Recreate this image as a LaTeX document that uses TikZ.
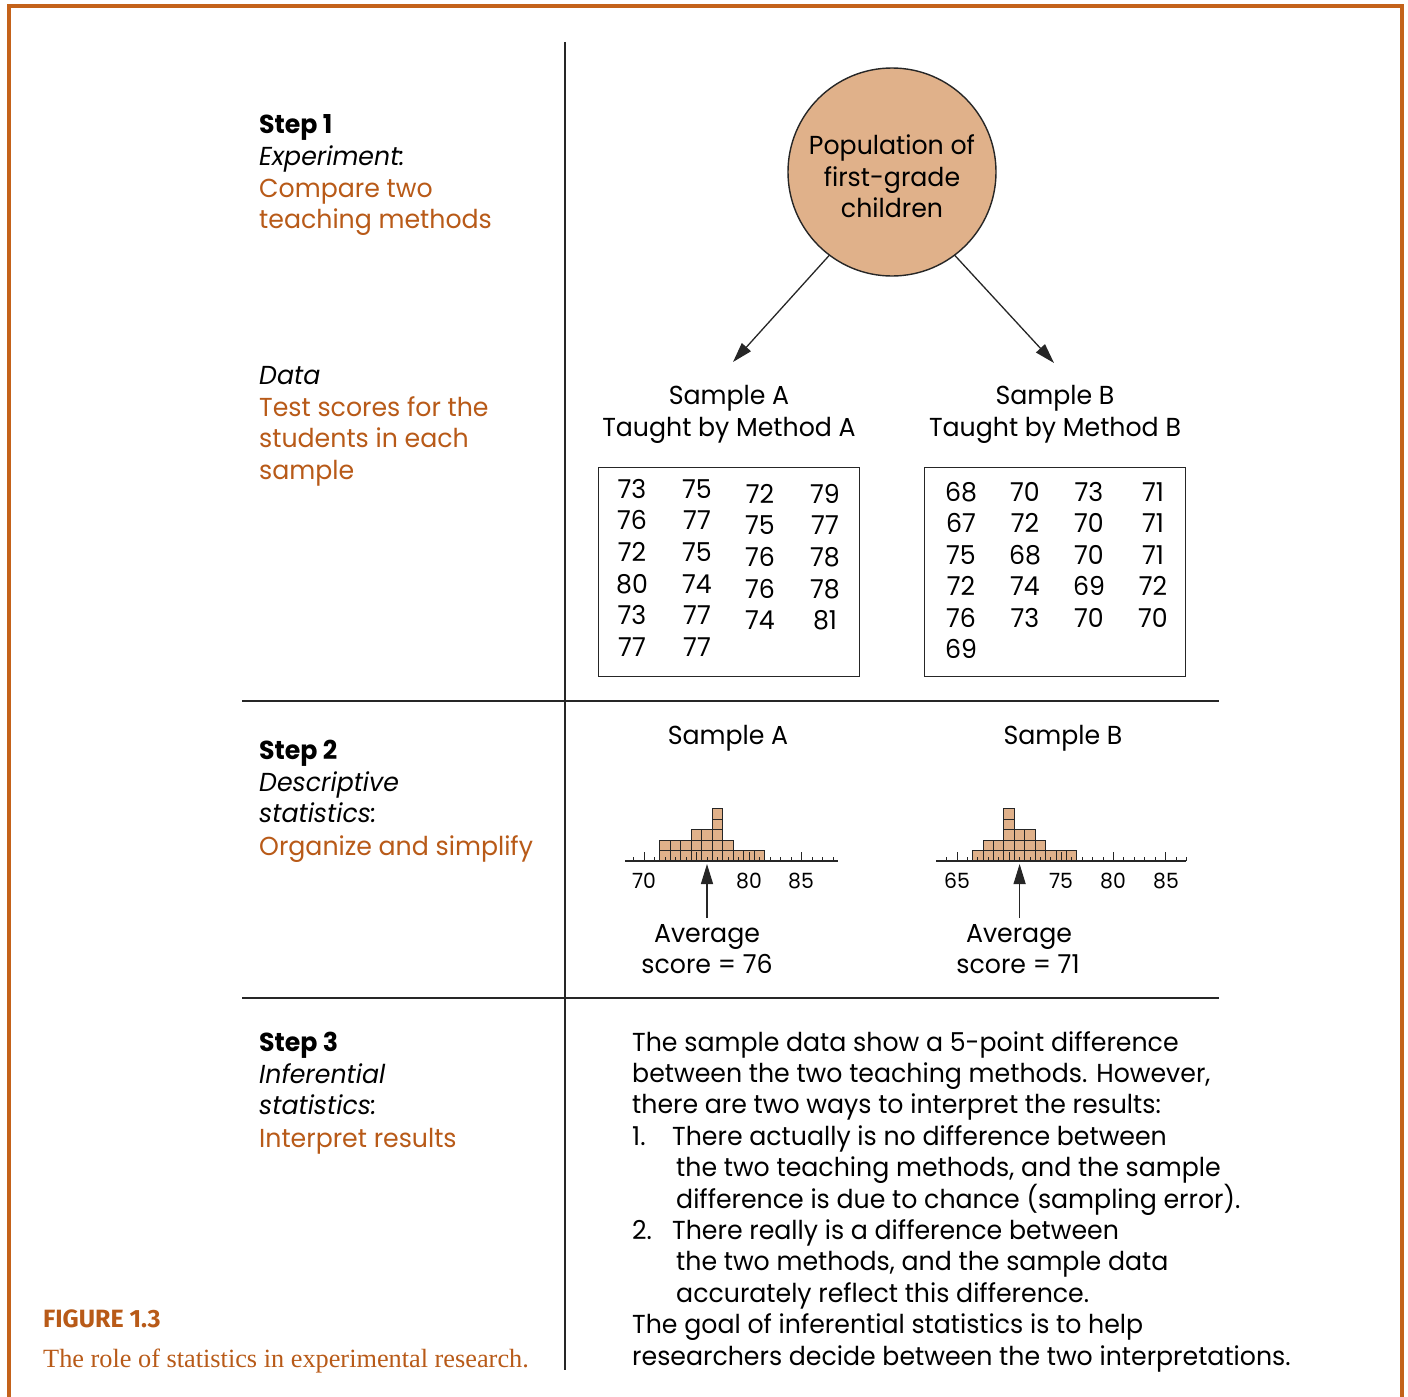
\documentclass[tikz,border=0pt]{standalone}
\usepackage{fontspec}
\setmainfont{Poppins}[FakeStretch=0.97]
\newfontfamily\figfont{Fira Sans}
\newfontfamily\capserif{Liberation Serif}
\usetikzlibrary{arrows.meta}
\definecolor{txtor}{RGB}{184,90,24}
\definecolor{bord}{RGB}{196,98,26}
\definecolor{tanfill}{RGB}{224,177,138}
\begin{document}
\begin{tikzpicture}[x=1pt,y=-1pt,
  lt/.style={inner sep=0pt, anchor=base west, font=\fontsize{26}{31.5}\selectfont},
  ct/.style={inner sep=0pt, anchor=base, font=\fontsize{26}{31.5}\selectfont},
  nt/.style={inner sep=0pt, anchor=base, font=\fontsize{21}{25}\selectfont},
  oran/.style={text=txtor},
  emph/.style={font=\fontsize{26}{31.5}\selectfont\itshape},
  stepl/.style={font=\fontsize{26}{31.5}\selectfont\bfseries},
  rule/.style={line width=1.4pt, black!85},
  hbox/.style={draw=black!85, fill=tanfill, line width=1pt},
  haxis/.style={line width=1.2pt, black!85},
  arr/.style={line width=1.3pt, black!85, -{Triangle[length=20pt,width=12pt]}},
  databox/.style={draw=black!85, line width=1.4pt}
]
\useasboundingbox (0,0) rectangle (1408,1397);
% border
\draw[bord, line width=3.5pt] (9,1399) -- (9,6) -- (1402,6) -- (1402,1399);
% rules
\draw[rule] (565,42) -- (565,1370);
\draw[rule] (242,701) -- (1219,701);
\draw[rule] (242,998) -- (1219,998);

% left column
\node[lt,stepl] (s1) at (259,133) {Step 1};
\node[lt,emph] (s1a) at (259,165) {Experiment:};
\node[lt,oran] (s1b) at (259,197) {Compare two};
\node[lt,oran] (s1c) at (259,228) {teaching methods};
\node[lt,emph] (d0) at (259,384) {Data};
\node[lt,oran] (d1) at (259,416) {Test scores for the};
\node[lt,oran] (d2) at (259,447) {students in each};
\node[lt,oran] (d3) at (259,479) {sample};
\node[lt,stepl] (s2) at (259,759) {Step 2};
\node[lt,emph] (s2a) at (259,791) {Descriptive};
\node[lt,emph] (s2b) at (259,822) {statistics:};
\node[lt,oran] (s2c) at (259,855) {Organize and simplify};
\node[lt,stepl] (s3) at (259,1051) {Step 3};
\node[lt,emph] (s3a) at (259,1083) {Inferential};
\node[lt,emph] (s3b) at (259,1114) {statistics:};
\node[lt,oran] (s3c) at (259,1147) {Interpret results};

% caption
\node[inner sep=0pt, anchor=base west, text=txtor, font=\figfont\fontsize{25}{29}\selectfont\bfseries] (fig) at (43,1327) {FIGURE 1.3};
\node[inner sep=0pt, anchor=base west, text=txtor, font=\capserif\fontsize{26.3}{30}\selectfont] (cap) at (43,1367) {The role of statistics in experimental research.};

% population circle
\node[circle, draw=black!85, fill=tanfill, line width=1.4pt, minimum size=208pt, inner sep=0pt] (pop) at (892,172) {};
\node[ct] (pop1) at (892,154) {Population of};
\node[ct] (pop2) at (892,186) {first-grade};
\node[ct] (pop3) at (892,217) {children};
\coordinate (ta) at (733,362);
\coordinate (tb) at (1054,363);
\draw[arr] (pop.233) -- (ta);
\draw[arr] (pop.307) -- (tb);

% sample headers
\node[ct] (sa1) at (729,404) {Sample A};
\node[ct] (sa2) at (729,436) {Taught by Method A};
\node[ct] (sb1) at (1055,404) {Sample B};
\node[ct] (sb2) at (1055,436) {Taught by Method B};

% data boxes
\node[databox, minimum width=261pt, minimum height=209pt, inner sep=0pt] (boxa) at (729,572) {};
\node[databox, minimum width=261pt, minimum height=209pt, inner sep=0pt] (boxb) at (1055,572) {};
\foreach \a/\b [count=\i from 0] in {73/75,76/77,72/75,80/74,73/77,77/77}
  { \node[ct] (aa\i) at (632,{498+\i*31.7}) {\a};
    \node[ct] (ab\i) at (697,{498+\i*31.7}) {\b}; }
\foreach \a/\b [count=\i from 0] in {72/79,75/77,76/78,76/78,74/81}
  { \node[ct] (ac\i) at (760,{503+\i*31.7}) {\a};
    \node[ct] (ad\i) at (825,{503+\i*31.7}) {\b}; }
\foreach \a/\b/\c/\d [count=\i from 0] in {68/70/73/71,67/72/70/71,75/68/70/71,72/74/69/72,76/73/70/70}
  { \node[ct] (ba\i) at (961,{501+\i*31.5}) {\a};
    \node[ct] (bb\i) at (1025,{501+\i*31.5}) {\b};
    \node[ct] (bc\i) at (1089,{501+\i*31.5}) {\c};
    \node[ct] (bd\i) at (1153,{501+\i*31.5}) {\d}; }
\node[ct] (ba5) at (961,{501+5*31.5}) {69};

% step 2
\node[ct] (ha) at (728,744) {Sample A};
\node[ct] (hb) at (1063,744) {Sample B};

% histogram A
\foreach \v/\c in {72/2,73/2,74/2,75/3,76/3,77/5,78/2,79/1,80/1,81/1}
  \foreach \k in {1,...,\c}
    \draw[hbox] ({644+(\v-70.5)*10.5},{861-(\k-1)*10.5}) rectangle ({644+(\v-69.5)*10.5},{861-\k*10.5});
\draw[haxis] ({644+(68.2-70)*10.5},861) -- ({644+(88.5-70)*10.5},861);
\foreach \t in {69,...,88}{
  \pgfmathsetmacro\hh{mod(\t,5)==0 ? 9 : 4.5}
  \draw[haxis, line width=1pt] ({644+(\t-70)*10.5},861) -- ++(0,-\hh);
}
\node[nt] (la70) at (644,888) {70};
\node[nt] (la80) at (749,888) {80};
\node[nt] (la85) at (801,888) {85};
\coordinate (avA) at (707,918);
\coordinate (tipA) at (707,864);
\draw[arr] (avA) -- (tipA);
\node[ct] (avA1) at (707,942) {Average};
\node[ct] (avA2) at (707,973) {score = 76};

% histogram B
\foreach \v/\c in {67/1,68/2,69/2,70/5,71/3,72/3,73/2,74/1,75/1,76/1}
  \foreach \k in {1,...,\c}
    \draw[hbox] ({957+(\v-65.5)*10.43},{861-(\k-1)*10.43}) rectangle ({957+(\v-64.5)*10.43},{861-\k*10.43});
\draw[haxis] ({957+(63-65)*10.43},861) -- ({957+(87-65)*10.43},861);
\foreach \t in {64,...,87}{
  \pgfmathsetmacro\hh{mod(\t,5)==0 ? 9 : 4.5}
  \draw[haxis, line width=1pt] ({957+(\t-65)*10.43},861) -- ++(0,-\hh);
}
\node[nt] (lb65) at (957,888) {65};
\node[nt] (lb75) at (1061,888) {75};
\node[nt] (lb80) at (1113,888) {80};
\node[nt] (lb85) at (1166,888) {85};
\coordinate (avB) at (1019.6,918);
\coordinate (tipB) at (1019.6,864);
\draw[arr] (avB) -- (tipB);
\node[ct] (avB1) at (1019,942) {Average};
\node[ct] (avB2) at (1018,973) {score = 71};

% step 3 text
\foreach \xx/\tx [count=\i from 0] in {
  632/{The sample data show a 5-point difference},
  632/{between the two teaching methods. However,},
  632/{there are two ways to interpret the results:},
  672/{There actually is no difference between},
  676/{the two teaching methods, and the sample},
  676/{difference is due to chance (sampling error).},
  672/{There really is a difference between},
  676/{the two methods, and the sample data},
  676/{accurately reflect this difference.},
  632/{The goal of inferential statistics is to help},
  632/{researchers decide between the two interpretations.}}
  { \node[lt] (p\i) at (\xx,{1051+\i*31.4}) {\tx}; }
\node[lt] (n1) at (632,{1051+3*31.4}) {1.};
\node[lt] (n2) at (632,{1051+6*31.4}) {2.};
\end{tikzpicture}
\end{document}
